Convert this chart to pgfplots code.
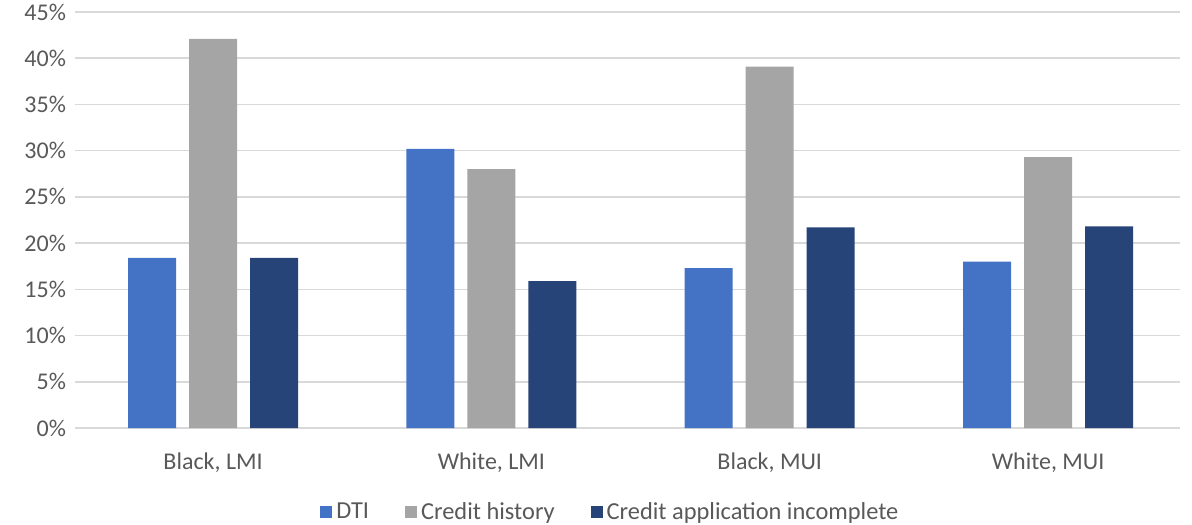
\documentclass[border=0pt]{standalone}
\usepackage{fontspec}
\setmainfont{Carlito}
\usepackage{pgfplots}
\pgfplotsset{compat=1.18}
\definecolor{cDTI}{HTML}{4472C4}
\definecolor{cCH}{HTML}{A5A5A5}
\definecolor{cCA}{HTML}{264478}
\definecolor{cGrid}{HTML}{D9D9D9}
\definecolor{cText}{HTML}{595959}
\begin{document}
\begin{tikzpicture}
\path[use as bounding box] (-37.5pt,-48pt) rectangle (558.5pt,214pt);
\begin{axis}[
  at={(0,0)}, anchor=south west,
  scale only axis, width=552.5pt, height=208pt,
  ybar=6.5pt, bar width=24pt,
  xmin=-0.496, xmax=3.474, ymin=0, ymax=45,
  xtick={0,1,2,3},
  xticklabels={{Black, LMI},{White, LMI},{Black, MUI},{White, MUI}},
  ytick={0,5,...,45},
  yticklabel={\pgfmathprintnumber{\tick}\%},
  /pgf/number format/assume math mode=true,
  ymajorgrids, major grid style={draw=cGrid, line width=0.8pt},
  axis line style={draw=none},
  major tick length=0pt,
  tick label style={font=\fontsize{12}{14}\selectfont, text=cText},
  xticklabel style={yshift=-9pt},
  yticklabel style={xshift=-1pt},
  legend style={at={(axis description cs:0.4845,-0.203)}, anchor=center, draw=none,
    font=\fontsize{12.2}{14}\selectfont, text=cText, legend columns=3,
    nodes={inner sep=1pt},
    /tikz/every even column/.append style={column sep=17pt}},
  legend image code/.code={\fill[#1] (0pt,-3pt) rectangle (6pt,3pt); \path (7pt,0pt);},
]
\addplot[fill=cDTI, draw=none] coordinates {(0,18.4) (1,30.2) (2,17.3) (3,18.0)};
\addplot[fill=cCH, draw=none] coordinates {(0,42.1) (1,28.0) (2,39.1) (3,29.3)};
\addplot[fill=cCA, draw=none] coordinates {(0,18.4) (1,15.9) (2,21.7) (3,21.8)};
\legend{DTI, Credit history, Credit application incomplete}
\end{axis}
\end{tikzpicture}
\end{document}
